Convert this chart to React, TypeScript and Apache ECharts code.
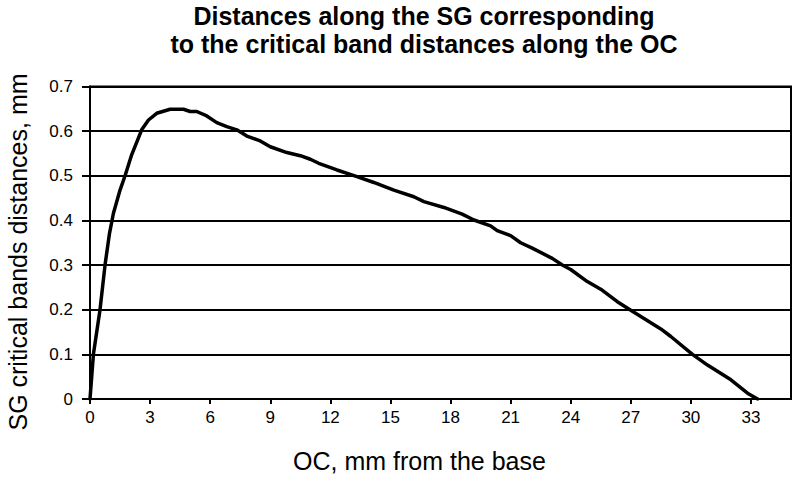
import React, { useEffect, useRef } from "react";
import * as echarts from "echarts";

const titleLines = [
  "Distances along the SG corresponding",
  "to the critical band distances along the OC",
];
const xAxisTitle = "OC, mm from the base";
const yAxisTitle = "SG critical bands distances, mm";

const xTicks = [0, 3, 6, 9, 12, 15, 18, 21, 24, 27, 30, 33];
const yTicks = [0, 0.1, 0.2, 0.3, 0.4, 0.5, 0.6, 0.7];

const ocDistance = [
  0, 0.17, 0.5, 0.75, 0.97, 1.17, 1.5, 1.75, 2.08, 2.58, 2.92, 3.33, 4.0, 4.67,
  5.0, 5.33, 5.83, 6.33, 6.83, 7.33, 7.83, 8.5, 9.0, 9.83, 10.5, 11.0, 11.42,
  12.33, 13.33, 14.17, 15.17, 16.17, 16.67, 17.67, 18.58, 19.17, 20.0, 20.33,
  21.0, 21.5, 22.08, 23.08, 23.58, 24.0, 24.83, 25.5, 26.33, 27.0, 28.5, 29.0,
  30.08, 30.83, 32.0, 32.83, 33.33,
];
const sgDistance = [
  0, 0.1, 0.2, 0.3, 0.37, 0.416, 0.468, 0.5, 0.547, 0.603, 0.625, 0.64, 0.649,
  0.649, 0.644, 0.644, 0.634, 0.619, 0.61, 0.603, 0.589, 0.578, 0.565, 0.552,
  0.545, 0.537, 0.528, 0.513, 0.498, 0.485, 0.468, 0.453, 0.442, 0.429, 0.414,
  0.401, 0.388, 0.377, 0.366, 0.35, 0.338, 0.315, 0.3, 0.29, 0.263, 0.246,
  0.218, 0.199, 0.157, 0.14, 0.1, 0.076, 0.043, 0.013, 0,
];

const FONT = "'Liberation Sans', Arial, Helvetica, sans-serif";

export default function App() {
  const ref = useRef<HTMLDivElement>(null);
  useEffect(() => {
    if (!ref.current) return;
    const chart = echarts.init(ref.current, null, { renderer: "svg" });
    const data = ocDistance.map((x, i) => [x, sgDistance[i]]);
    chart.setOption({
      animation: false,
      backgroundColor: "#ffffff",
      title: {
        text: titleLines.join("\n"),
        left: 424,
        top: 2,
        padding: 0,
        textAlign: "center",
        textStyle: {
          fontFamily: FONT,
          fontSize: 25,
          fontWeight: "bold",
          color: "#000",
          lineHeight: 28,
        },
      },
      grid: {
        left: 90,
        right: 9,
        top: 86.5,
        bottom: 80,
        show: true,
        borderColor: "#000",
        borderWidth: 2,
        backgroundColor: "transparent",
      },
      xAxis: {
        type: "value",
        min: 0,
        max: 35,
        interval: 3,
        axisLine: { show: true, lineStyle: { color: "#000", width: 2 } },
        axisTick: {
          show: true,
          length: 5,
          customValues: xTicks,
          lineStyle: { color: "#000", width: 2 },
        },
        axisLabel: {
          customValues: xTicks,
          margin: 10,
          fontFamily: FONT,
          fontSize: 17,
          color: "#000",
        },
        splitLine: { show: false },
      },
      yAxis: {
        type: "value",
        min: 0,
        max: 0.7,
        interval: 0.1,
        axisLine: { show: true, lineStyle: { color: "#000", width: 2 } },
        axisTick: {
          show: true,
          length: 8,
          customValues: yTicks,
          lineStyle: { color: "#000", width: 2 },
        },
        axisLabel: {
          customValues: yTicks,
          margin: 17,
          fontFamily: FONT,
          fontSize: 17,
          color: "#000",
          formatter: (v: number) => (v === 0 ? "0" : v.toFixed(1)),
        },
        splitLine: { show: true, lineStyle: { color: "#000", width: 2 } },
      },
      graphic: [
        {
          type: "text",
          x: 419.5,
          y: 460.5,
          style: {
            text: xAxisTitle,
            font: `25px ${FONT}`,
            fill: "#000",
            textAlign: "center",
            textVerticalAlign: "middle",
            align: "center",
            verticalAlign: "middle",
          },
        },
        {
          type: "text",
          x: 18,
          y: 252,
          rotation: Math.PI / 2,
          style: {
            text: yAxisTitle,
            font: `25px ${FONT}`,
            fill: "#000",
            textAlign: "center",
            textVerticalAlign: "middle",
            align: "center",
            verticalAlign: "middle",
          },
        },
      ],
      series: [
        {
          type: "line",
          data,
          showSymbol: false,
          symbol: "none",
          smooth: false,
          lineStyle: { color: "#000", width: 3.5, join: "round", cap: "round" },
        },
      ],
    });
    return () => chart.dispose();
  }, []);
  return (
    <div
      ref={ref}
      style={{ position: "fixed", left: 0, top: 0, width: 800, height: 479, background: "#fff" }}
    />
  );
}
